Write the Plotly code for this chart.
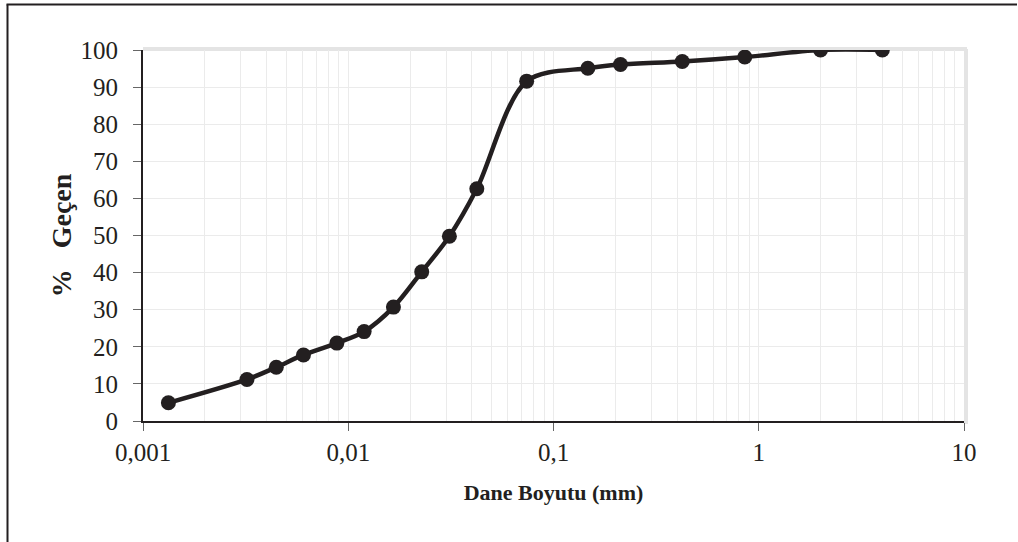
import plotly.graph_objects as go

# Data
grain_size_mm = [0.00133, 0.00321, 0.00446, 0.00605, 0.0088, 0.01195, 0.0166,
                 0.0228, 0.0311, 0.0423, 0.074, 0.147, 0.212, 0.424, 0.855, 2.0, 4.0]
percent_passing = [4.9, 11.2, 14.5, 17.8, 21.0, 24.1, 30.7, 40.2, 49.8, 62.6,
                   91.6, 95.1, 96.1, 96.9, 98.1, 100, 100]

x_tick_vals = [0.001, 0.01, 0.1, 1, 10]
x_tick_text = ["0,001", "0,01", "0,1", "1", "10"]
y_tick_vals = [0, 10, 20, 30, 40, 50, 60, 70, 80, 90, 100]

W, H = 1018, 542
ML, MR, MT, MB = 143, 54, 50, 121
pw, ph = W - ML - MR, H - MT - MB

ink = "#231f20"
grid = "#ebebeb"
font_family = "Liberation Serif, Times New Roman, serif"

minor_vals = [m * 10 ** e for e in range(-3, 1) for m in range(2, 10)]

fig = go.Figure()
fig.add_trace(go.Scatter(
    x=grain_size_mm, y=percent_passing, mode="lines+markers",
    line=dict(color=ink, width=4.5, shape="spline", smoothing=0.9),
    marker=dict(color=ink, size=15),
    showlegend=False, hoverinfo="x+y",
))

# page pixel -> paper coordinates
def px_x(p):
    return (p - ML) / pw

def px_y(p):
    return (H - MB - p) / ph

shapes = [
    # light gray frame on top and right of plot area
    dict(type="line", xref="paper", yref="paper", x0=0, x1=1 + 3 / pw, y0=1 + 1 / ph, y1=1 + 1 / ph,
         line=dict(color="#e4e4e4", width=4), layer="below"),
    dict(type="line", xref="paper", yref="paper", x0=1 + 2 / pw, x1=1 + 2 / pw, y0=-3 / ph, y1=1 + 1 / ph,
         line=dict(color="#e4e4e4", width=4), layer="below"),
    # outer figure frame (left and top)
    dict(type="line", xref="paper", yref="paper", x0=px_x(7.5), x1=px_x(7.5), y0=px_y(4.5), y1=px_y(545),
         line=dict(color=ink, width=2)),
    dict(type="line", xref="paper", yref="paper", x0=px_x(6.5), x1=px_x(1017), y0=px_y(4.5), y1=px_y(4.5),
         line=dict(color=ink, width=2)),
]

fig.update_layout(
    width=W, height=H,
    margin=dict(l=ML, r=MR, t=MT, b=MB, autoexpand=False),
    paper_bgcolor="white", plot_bgcolor="white",
    font=dict(family=font_family, color=ink, size=25),
    shapes=shapes,
    xaxis=dict(
        type="log", range=[-3, 1],
        tickmode="array", tickvals=x_tick_vals, ticktext=x_tick_text,
        ticks="outside", ticklen=8, tickcolor="#666", tickwidth=1,
        showline=True, linecolor=ink, linewidth=2,
        showgrid=True, gridcolor=grid, gridwidth=1,
        minor=dict(tickmode="array", tickvals=minor_vals, showgrid=True, gridcolor=grid, gridwidth=1, ticks=""),
        zeroline=False,
        tickfont=dict(size=25, family=font_family, color=ink),
        ticklabelstandoff=0,
        title=dict(text="<b>Dane Boyutu (mm)</b>", font=dict(size=22, family=font_family, color=ink), standoff=20),
    ),
    yaxis=dict(
        range=[0, 100],
        tickmode="array", tickvals=y_tick_vals,
        ticks="outside", ticklen=8, tickcolor="#666", tickwidth=1,
        showline=True, linecolor=ink, linewidth=2,
        showgrid=True, gridcolor=grid, gridwidth=1,
        zeroline=False,
        tickfont=dict(size=25, family=font_family, color=ink),
        ticklabelstandoff=10,
        title=dict(text="<b>%\u00a0\u00a0\u00a0Geçen</b>", font=dict(size=28, family=font_family, color=ink), standoff=1),
    ),
)

fig.write_html("out.html", config={"displayModeBar": False},
               post_script="document.body.style.margin='0';document.body.style.overflow='hidden';")
